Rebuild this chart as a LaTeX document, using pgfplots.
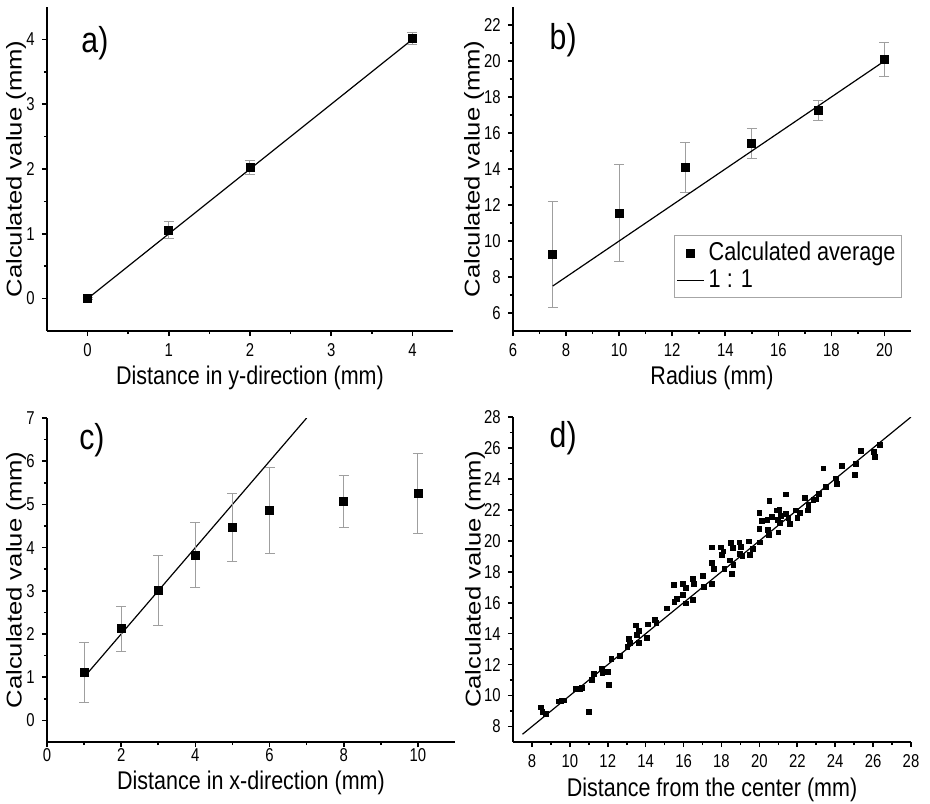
\documentclass[border=0pt]{standalone}
\usepackage{fontspec}
\setmainfont{Liberation Sans}
% the reference is stretched vertically: narrow horizontal text, long vertical text
\newfontfamily\cond{Liberation Sans}[FakeStretch=0.8]
\newfontfamily\lbl{Liberation Sans}[FakeStretch=0.84]
\newfontfamily\wide{Liberation Sans}[FakeStretch=1.2]
\usepackage{pgfplots}
\pgfplotsset{compat=1.18}

\tikzset{tag/.style={font=\lbl\fontsize{18}{20}\selectfont}}
\pgfplotsset{
  panel/.style={
    scale only axis,
    axis x line=bottom, axis y line=left,
    axis line style={-, line width=0.9pt},
    tick align=outside,
    major tick length=2.6pt, minor tick length=1.6pt,
    every tick/.style={black, line width=0.8pt},
    minor x tick num=1, minor y tick num=1,
    tick label style={font=\cond\fontsize{9.3}{10}\selectfont},
    /pgf/number format/assume math mode=true,
    every axis x label/.style={at={(rel axis cs:0.5,0)}, anchor=center,
      font=\lbl\fontsize{12.8}{14}\selectfont},
    every axis y label/.style={at={(rel axis cs:0,0.5)}, anchor=center,
      rotate=90, font=\wide\fontsize{10.7}{12}\selectfont},
  },
  oneone/.style={black, line width=0.6pt, no marks},
  errpts/.style={only marks, mark=square*, mark size=2pt, black,
    error bars/.cd, y dir=both, y explicit,
    error bar style={gray!75, line width=0.5pt},
    error mark options={rotate=90, gray!75, mark size=2.5pt, line width=0.5pt}},
}

\begin{document}
\begin{tikzpicture}
\path[use as bounding box] (0,0) rectangle (465pt,401.5pt);

% a)
\begin{axis}[panel, at={(23.5pt,236pt)}, anchor=south west,
  width=203pt, height=162pt,
  xmin=-0.5, xmax=4.5, ymin=-0.5, ymax=4.5,
  xtick={0,1,2,3,4}, ytick={0,1,2,3,4},
  xlabel style={yshift=-23.5pt}, ylabel style={yshift=15.5pt},
  xlabel={Distance in y-direction (mm)}, ylabel={Calculated value (mm)}]
\addplot[oneone] coordinates {(0,0) (4,4)};
\addplot[errpts] coordinates {
  (0,0) +- (0,0.02)
  (1,1.06) +- (0,0.13)
  (2,2.02) +- (0,0.105)
  (4,4.01) +- (0,0.095)
};
\node[tag] at (rel axis cs:0.118,0.889) {a)};
\end{axis}

% b)
\begin{axis}[panel, at={(256.5pt,236pt)}, anchor=south west,
  width=199pt, height=162pt,
  xmin=6, xmax=21, ymin=5, ymax=23,
  xtick={6,8,...,20}, ytick={6,8,...,22},
  xlabel style={yshift=-23.5pt}, ylabel style={yshift=19.5pt},
  xlabel={Radius (mm)}, ylabel={Calculated value (mm)},
  legend style={at={(0.977,0.102)}, anchor=south east, draw=gray!70,
    font=\lbl\fontsize{12.9}{15}\selectfont, inner xsep=1pt, inner ysep=1.5pt,
    row sep=-1pt},
  legend image code/.code={\draw[mark repeat=2, mark phase=2, #1]
    plot coordinates {(0cm,0cm) (0.24cm,0cm) (0.48cm,0cm)};},
  legend cell align=left]
\addplot[errpts] coordinates {
  (7.5,9.26) +- (0,2.95)
  (10,11.55) +- (0,2.7)
  (12.5,14.07) +- (0,1.4)
  (15,15.43) +- (0,0.83)
  (17.5,17.26) +- (0,0.55)
  (20,20.09) +- (0,0.95)
};
\addlegendentry{Calculated average}
\addplot[oneone] coordinates {(7.5,7.5) (20,20)};
\addlegendentry{1 : 1}
\node[tag] at (rel axis cs:0.126,0.898) {b)};
\end{axis}

% c)
\begin{axis}[panel, at={(23.5pt,30.5pt)}, anchor=south west,
  width=204pt, height=162pt,
  xmin=0, xmax=11, ymin=-0.5, ymax=7,
  xtick={0,2,...,10}, ytick={0,1,...,7},
  xticklabel style={yshift=3pt},
  xlabel style={yshift=-20.5pt}, ylabel style={yshift=15.5pt},
  xlabel={Distance in x-direction (mm)}, ylabel={Calculated value (mm)}]
\addplot[oneone] coordinates {(1,1) (7,7)};
\addplot[errpts] coordinates {
  (1,1.11) +- (0,0.70)
  (2,2.12) +- (0,0.52)
  (3,3.01) +- (0,0.81)
  (4,3.83) +- (0,0.75)
  (5,4.47) +- (0,0.78)
  (6,4.86) +- (0,1.0)
  (8,5.07) +- (0,0.61)
  (10,5.25) +- (0,0.92)
};
\node[tag] at (rel axis cs:0.11,0.932) {c)};
\end{axis}

% d)
\begin{axis}[panel, at={(256.5pt,30.5pt)}, anchor=south west,
  width=199pt, height=162.5pt,
  xmin=7, xmax=28, ymin=7, ymax=28,
  xtick={8,10,...,28}, ytick={8,10,...,28},
  xlabel style={yshift=-24pt}, ylabel style={yshift=19pt},
  xlabel={Distance from the center (mm)}, ylabel={Calculated value (mm)}]
\addplot[oneone] coordinates {(7.5,7.5) (28,28)};
\addplot[only marks, mark=square*, mark size=1.2pt, black] coordinates {
  (8.48,9.24) (8.55,8.92) (8.72,8.81) (9.39,9.63) (9.55,9.67) (9.71,9.69)
  (10.31,10.42) (10.52,10.42) (10.64,10.49) (11.01,8.96) (11.15,11.02)
  (11.26,11.39) (11.67,11.75) (11.72,11.43) (12.0,11.54) (12.04,10.68)
  (12.19,12.35) (12.63,12.57) (13.04,13.17) (13.13,13.64) (13.16,13.38)
  (13.50,14.54) (13.55,13.92) (13.64,14.17) (13.66,13.42) (14.06,13.74)
  (14.13,14.60) (14.50,14.88) (14.57,14.71) (15.10,15.63) (15.51,17.17)
  (15.52,16.06) (15.63,16.27) (15.98,17.24) (15.98,16.53) (16.11,16.96)
  (16.12,15.95) (16.48,17.54) (16.49,16.17) (16.56,17.22) (17.0,17.71)
  (17.08,17.0) (17.48,19.58) (17.50,18.57) (17.50,17.22) (17.62,18.2)
  (17.96,19.58) (18.01,19.10) (18.10,19.32) (18.15,18.18) (18.45,18.74)
  (18.50,19.85) (18.54,17.88) (18.59,19.53) (18.63,18.46) (18.94,19.90)
  (18.98,19.15) (19.01,19.60) (19.10,19.0) (19.45,19.96) (19.51,19.10)
  (19.65,19.47) (20.0,21.78) (20.0,20.75) (20.04,19.90) (20.12,21.29)
  (20.42,21.36) (20.44,20.71) (20.51,20.39) (20.53,22.58) (20.65,21.57)
  (20.92,21.96) (20.96,21.36) (21.0,20.54) (21.06,22.0) (21.13,21.61)
  (21.09,21.14) (21.39,23.0) (21.41,21.72) (21.53,21.46) (21.62,21.08)
  (21.94,21.96) (22.01,21.46) (22.15,21.78) (22.41,22.79) (22.54,21.96)
  (22.59,22.32) (22.85,22.64) (22.98,22.68) (23.12,23.03) (23.38,24.68)
  (23.52,23.5) (24.04,24.03) (24.09,23.67) (24.37,24.85) (25.06,24.25)
  (25.11,24.96) (25.36,25.79) (26.03,25.75) (26.11,25.43) (26.34,26.18)
};
\node[tag] at (rel axis cs:0.126,0.935) {d)};
\end{axis}
\end{tikzpicture}
\end{document}
